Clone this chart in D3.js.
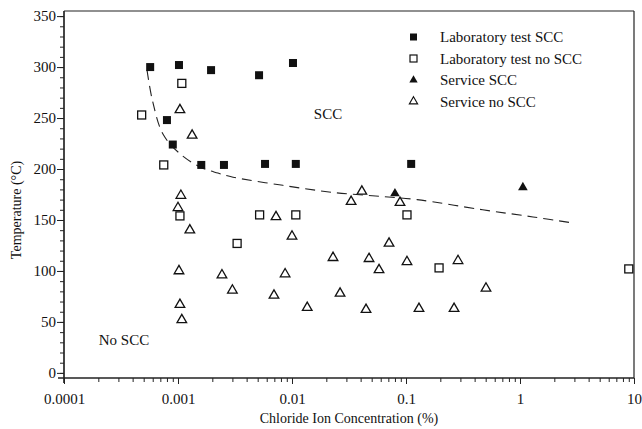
<!DOCTYPE html>
<html><head><meta charset="utf-8">
<script src="https://cdn.jsdelivr.net/npm/d3@7"></script>
<style>body{margin:0;background:#fff}svg{display:block}text{font-family:"Liberation Serif","Times New Roman",serif;fill:#111}</style>
</head><body><svg id="c" width="642" height="429"></svg>
<script>
// Data (x = chloride %, y = temperature °C)
const labSCC = [[0.00057,300],[0.00102,302],[0.00195,297],[0.00514,292],[0.0102,304],[0.0008,248],[0.0009,224],[0.0016,204],[0.00253,204],[0.0058,205],[0.0108,205],[0.111,205]];
const labNoSCC = [[0.00108,284],[0.00048,253],[0.00075,204],[0.00104,154],[0.0052,155],[0.0108,155],[0.102,155],[0.0033,127],[0.195,103],[9.0,102]];
const serviceSCC = [[0.08,176],[1.06,182]];
const serviceNoSCC = [[0.00104,258],[0.00133,233],[0.00106,174],[0.001,162],[0.00127,140],[0.00102,100],[0.00104,67],[0.00108,52],[0.00243,96],[0.003,81],[0.00695,76],[0.00724,153],[0.0087,97],[0.01,134],[0.0136,64],[0.0229,113],[0.0264,78],[0.033,168],[0.041,178],[0.0446,62],[0.0474,112],[0.058,101],[0.071,127],[0.0886,167],[0.102,109],[0.13,63],[0.286,110],[0.264,63],[0.503,83]];
const boundary = [[0.000535,297],[0.0006,266],[0.00074,234],[0.00104,215],[0.00156,202],[0.00224,196],[0.00304,192],[0.0083,184],[0.023,177],[0.063,173],[0.125,170],[0.47,160],[1.3,153],[2.92,147]];
const xTicks = [0.0001,0.001,0.01,0.1,1,10];
const xTickLabels = ["0.0001","0.001","0.01","0.1","1","10"];
const yTicks = [0,50,100,150,200,250,300,350];
const legendLabels = ["Laboratory test SCC","Laboratory test no SCC","Service SCC","Service no SCC"];

const svg = d3.select("#c");
const L=64,R=634,T=11,B=378;
const x = d3.scaleLog().domain([0.0001,10]).range([L,R]);
const y = d3.scaleLinear().domain([-5,355]).range([B,T]);

// frame
svg.append("line").attr("x1",L).attr("x2",R).attr("y1",T).attr("y2",T).attr("stroke","#222").attr("stroke-width",1.2);
svg.append("line").attr("x1",R).attr("x2",R).attr("y1",T).attr("y2",B).attr("stroke","#222").attr("stroke-width",1.2);

// x axis
const minorX = [];
for (let e=-4;e<1;e++) for (let m=2;m<10;m++) minorX.push(m*Math.pow(10,e));
const gx = svg.append("g").attr("transform",`translate(0,${B})`);
gx.call(d3.axisBottom(x).tickValues(minorX).tickSize(4).tickFormat(""));
const gx2 = svg.append("g").attr("transform",`translate(0,${B})`);
gx2.call(d3.axisBottom(x).tickValues(xTicks).tickSize(6).tickFormat((d,i)=>xTickLabels[i]));
[gx,gx2].forEach(g=>{g.select(".domain").attr("stroke","#222").attr("stroke-width",1.2).attr("d",`M${L-6},0H${R}`);g.selectAll("line").attr("stroke","#222");});
gx2.selectAll("text").attr("dy",0).attr("y",26).style("font-size","15px").style("font-family","Liberation Serif");

// y axis
const minorY = d3.range(0,351,10);
const gy = svg.append("g").attr("transform",`translate(${L},0)`);
gy.call(d3.axisLeft(y).tickValues(minorY).tickSize(4).tickFormat(""));
const gy2 = svg.append("g").attr("transform",`translate(${L},0)`);
gy2.call(d3.axisLeft(y).tickValues(yTicks).tickSize(7).tickFormat(d3.format("d")));
[gy,gy2].forEach(g=>{g.select(".domain").attr("stroke","#222").attr("stroke-width",1.2).attr("d",`M0,${T}V${B+5}`);g.selectAll("line").attr("stroke","#222");});
gy2.selectAll("text").attr("x",-8).style("font-size","15px").style("font-family","Liberation Serif");

// boundary curve
svg.append("path").datum(boundary)
  .attr("d",d3.line().x(d=>x(d[0])).y(d=>y(d[1])).curve(d3.curveCatmullRom))
  .attr("fill","none").attr("stroke","#222").attr("stroke-width",1.1).attr("stroke-dasharray","10,6");

const sq=8, tri=d3.symbol().type(d3.symbolTriangle).size(40);
function squares(data,filled){
  svg.append("g").selectAll("rect").data(data).join("rect")
    .attr("x",d=>x(d[0])-sq/2).attr("y",d=>y(d[1])-sq/2).attr("width",sq).attr("height",sq)
    .attr("fill",filled?"#111":"#fff").attr("stroke","#111").attr("stroke-width",filled?0:1.3);
}
function triangles(data,filled){
  svg.append("g").selectAll("path").data(data).join("path")
    .attr("transform",d=>`translate(${x(d[0])},${y(d[1])})`).attr("d",tri)
    .attr("fill",filled?"#111":"#fff").attr("stroke","#111").attr("stroke-width",filled?0:1.3);
}
squares(labSCC,true); squares(labNoSCC,false); triangles(serviceSCC,true); triangles(serviceNoSCC,false);

// region labels
svg.append("text").attr("x",328).attr("y",119).attr("text-anchor","middle").style("font-size","15px").text("SCC");
svg.append("text").attr("x",124).attr("y",345).attr("text-anchor","middle").style("font-size","15px").text("No SCC");

// legend
const lg = svg.append("g");
legendLabels.forEach((t,i)=>{
  const cy = 37 + i*21.5;
  if(i<2) lg.append("rect").attr("x",410).attr("y",cy-3.5).attr("width",7).attr("height",7).attr("fill",i==0?"#111":"#fff").attr("stroke","#111").attr("stroke-width",i==0?0:1.2);
  else lg.append("path").attr("transform",`translate(413.5,${cy})`).attr("d",d3.symbol().type(d3.symbolTriangle).size(30)).attr("fill",i==2?"#111":"#fff").attr("stroke","#111").attr("stroke-width",i==2?0:1.1);
  lg.append("text").attr("x",440).attr("y",cy+5).style("font-size","15px").text(t);
});

// axis titles
svg.append("text").attr("x",349).attr("y",423).attr("text-anchor","middle").style("font-size","14px").text("Chloride Ion Concentration (%)");
svg.append("text").attr("transform","translate(21,210) rotate(-90)").attr("text-anchor","middle").style("font-size","14px").text("Temperature (°C)");
</script></body></html>
